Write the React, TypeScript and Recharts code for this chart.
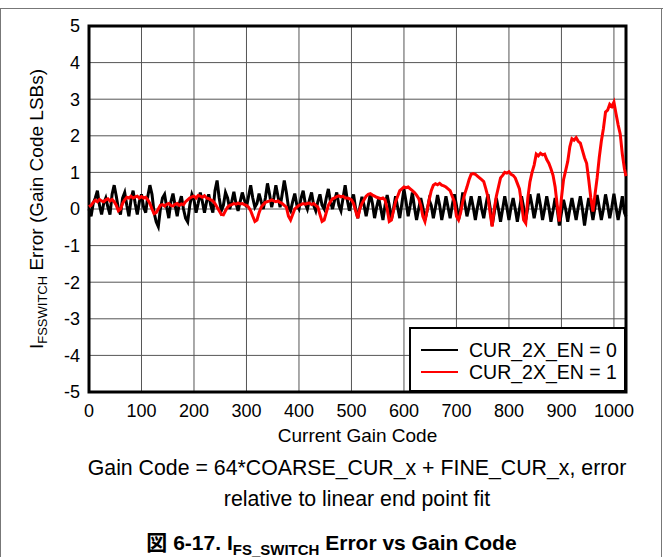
import { CartesianGrid, Line, LineChart, ReferenceArea, XAxis, YAxis } from 'recharts';

// one sample every 4 gain codes, last one at code 1023
const CODE_STEP = 4;
const LAST_CODE = 1023;

// CUR_2X_EN = 0
const errorCur2xOff = [
  0.0, -0.2, 0.15, 0.3, 0.5, 0.1, -0.15, 0.15, 0.3, 0.05, -0.15, 0.4, 0.65, 0.35, 0.0, -0.15,
  0.3, 0.45, 0.1, -0.2, 0.25, 0.5, 0.15, -0.15, 0.2, 0.4, 0.05, -0.1, 0.35, 0.65, 0.4, -0.1,
  -0.35, -0.48, 0.0, 0.3, 0.4, 0.05, -0.25, 0.2, 0.42, 0.1, -0.2, 0.15, 0.35, 0.0, -0.25, -0.35,
  0.1, 0.4, 0.25, -0.1, 0.15, 0.45, 0.2, -0.1, 0.2, 0.4, 0.1, -0.1, 0.5, 0.78, 0.3, -0.05,
  0.1, 0.45, 0.3, 0.0, 0.2, 0.47, 0.15, -0.05, 0.2, 0.45, 0.25, 0.05, 0.35, 0.65, 0.3, 0.05,
  0.15, 0.42, 0.2, 0.0, 0.3, 0.7, 0.4, 0.05, 0.3, 0.65, 0.35, 0.05, 0.4, 0.78, 0.45, 0.05,
  -0.05, 0.2, 0.42, 0.1, 0.0, 0.3, 0.5, 0.15, 0.0, 0.25, 0.45, 0.1, -0.05, 0.2, 0.4, 0.1,
  0.0, 0.3, 0.55, 0.2, 0.0, 0.25, 0.45, 0.1, -0.05, 0.3, 0.65, 0.25, -0.05, 0.2, 0.4, 0.0,
  -0.25, 0.05, 0.33, 0.1, -0.2, 0.1, 0.42, 0.15, -0.25, 0.05, 0.3, 0.0, -0.3, 0.1, 0.38, 0.1,
  -0.3, 0.0, 0.35, 0.05, -0.25, 0.15, 0.55, 0.2, -0.2, 0.1, 0.45, 0.05, -0.3, 0.0, 0.3, 0.05,
  -0.3, -0.05, 0.25, 0.1, -0.25, 0.05, 0.38, 0.1, -0.3, 0.0, 0.35, 0.05, -0.25, 0.1, 0.4, 0.1,
  -0.3, 0.0, 0.45, 0.15, -0.2, 0.05, 0.35, 0.05, -0.3, 0.05, 0.35, 0.0, -0.25, 0.1, 0.4, 0.05,
  -0.45, -0.1, 0.3, 0.0, -0.35, 0.0, 0.35, 0.05, -0.3, 0.05, 0.3, 0.0, -0.35, 0.0, 0.35, 0.05,
  -0.3, 0.05, 0.4, 0.1, -0.25, 0.05, 0.42, 0.1, -0.3, 0.0, 0.35, 0.05, -0.35, -0.05, 0.3, 0.0,
  -0.45, -0.1, 0.25, 0.0, -0.35, 0.0, 0.3, 0.0, -0.3, 0.05, 0.35, 0.0, -0.45, -0.05, 0.3, 0.05,
  -0.3, 0.05, 0.38, 0.05, -0.3, 0.0, 0.4, 0.1, -0.25, 0.05, 0.42, 0.05, -0.3, 0.0, 0.35, -0.1,
  -0.2,
];

// CUR_2X_EN = 1
const errorCur2xOn = [
  0.06, 0.1, 0.18, 0.24, 0.2, 0.26, 0.22, 0.2, 0.25, 0.28, 0.22, 0.26, 0.2, 0.1, -0.05, 0.0,
  0.15, 0.25, 0.32, 0.3, 0.35, 0.3, 0.33, 0.35, 0.3, 0.34, 0.3, 0.32, 0.25, 0.15, 0.0, -0.13,
  -0.1, 0.0, 0.1, 0.12, 0.08, 0.13, 0.15, 0.1, 0.08, 0.13, 0.15, 0.1, 0.14, 0.12, 0.2, 0.25,
  0.3, 0.33, 0.35, 0.3, 0.37, 0.35, 0.32, 0.36, 0.3, 0.28, 0.25, 0.22, 0.15, 0.05, -0.05, -0.15,
  -0.16, -0.05, 0.05, 0.1, 0.12, 0.15, 0.13, 0.16, 0.14, 0.15, 0.12, 0.1, 0.05, -0.05, -0.2, -0.34,
  -0.3, -0.1, 0.05, 0.12, 0.18, 0.2, 0.22, 0.25, 0.22, 0.2, 0.22, 0.18, 0.15, 0.1, 0.05, -0.2,
  -0.3, -0.15, 0.0, 0.05, 0.1, 0.12, 0.15, 0.13, 0.15, 0.16, 0.12, 0.15, 0.1, 0.05, -0.15, -0.34,
  -0.3, -0.1, 0.1, 0.2, 0.28, 0.3, 0.34, 0.36, 0.33, 0.35, 0.3, 0.3, 0.28, 0.25, 0.15, -0.05,
  -0.25, 0.0, 0.15, 0.25, 0.35, 0.4, 0.42, 0.38, 0.35, 0.32, 0.3, 0.28, 0.3, 0.25, 0.0, -0.34,
  -0.3, -0.05, 0.2, 0.35, 0.5, 0.55, 0.6, 0.58, 0.6, 0.55, 0.5, 0.45, 0.38, 0.29, 0.1, -0.2,
  -0.34, -0.05, 0.25, 0.5, 0.65, 0.69, 0.66, 0.7, 0.65, 0.63, 0.6, 0.55, 0.5, 0.35, 0.2, -0.2,
  -0.3, -0.1, 0.2, 0.42, 0.6, 0.8, 0.95, 0.97, 0.95, 0.9, 0.85, 0.8, 0.75, 0.55, 0.33, -0.1,
  -0.48, 0.0, 0.35, 0.6, 0.85, 0.92, 1.0, 0.98, 1.02, 0.95, 0.92, 0.85, 0.7, 0.55, 0.15, -0.3,
  -0.39, 0.3, 0.74, 1.0, 1.2, 1.5, 1.45, 1.52, 1.48, 1.5, 1.35, 1.25, 1.1, 0.92, 0.6, 0.1,
  -0.34, 0.3, 0.8, 1.05, 1.3, 1.7, 1.92, 1.88, 1.95, 1.85, 1.8, 1.6, 1.4, 1.25, 0.8, 0.3,
  -0.07, 0.4, 0.85, 1.4, 1.85, 2.2, 2.65, 2.7, 2.86, 2.8, 2.92, 2.6, 2.3, 2.05, 1.5, 1.1,
  0.9,
];

const xTicks = [0, 100, 200, 300, 400, 500, 600, 700, 800, 900, 1000];
const yTicks = [-5, -4, -3, -2, -1, 0, 1, 2, 3, 4, 5];

const seriesNames = ['CUR_2X_EN = 0', 'CUR_2X_EN = 1'];
const seriesColors = ['#000000', '#ff0000'];

const data = errorCur2xOff.map((v, i) => ({
  code: Math.min(i * CODE_STEP, LAST_CODE),
  off: v,
  on: errorCur2xOn[i],
}));

const FONT = 'Arial, "Liberation Sans", "Noto Sans CJK JP", sans-serif';

// legend box sits inside the plot, bottom-right corner
function LegendBox() {
  return (
    <div
      style={{
        position: 'absolute',
        left: 409,
        top: 327,
        width: 217,
        height: 65,
        boxSizing: 'border-box',
        border: '2px solid #000',
        background: '#fff',
        padding: '10px 0 0 10px',
        fontSize: 19.5,
        lineHeight: '22px',
        color: '#000',
      }}
    >
      {seriesNames.map((name, i) => (
        <div key={name} style={{ display: 'flex', alignItems: 'center' }}>
          <span style={{ display: 'inline-block', width: 37, height: 2.5, background: seriesColors[i], marginRight: 11 }} />
          <span>{name}</span>
        </div>
      ))}
    </div>
  );
}

export default function App() {
  return (
    <div style={{ position: 'absolute', left: 0, top: 0, width: 663, height: 557, background: '#fff', fontFamily: FONT }}>
      <div style={{ position: 'absolute', left: 0, top: 8, width: 663, height: 1, background: '#777' }} />
      <div style={{ position: 'absolute', left: 0, top: 8, width: 1, height: 549, background: '#777' }} />
      <div style={{ position: 'absolute', left: 661, top: 8, width: 1, height: 549, background: '#777' }} />

      <LineChart width={663} height={557} data={data} margin={{ top: 26, right: 37, left: 29, bottom: 135 }}>
        <CartesianGrid stroke="#555" strokeWidth={1} />
        <XAxis
          type="number"
          dataKey="code"
          domain={[0, 1023]}
          ticks={xTicks}
          interval={0}
          tickLine={false}
          axisLine={false}
          tickSize={0}
          tickMargin={12}
          height={30}
          tick={{ fontSize: 18, fill: '#000', fontFamily: FONT }}
        />
        <YAxis
          type="number"
          domain={[-5, 5]}
          ticks={yTicks}
          interval={0}
          tickLine={false}
          axisLine={false}
          tickSize={0}
          tickMargin={9}
          width={60}
          tick={{ fontSize: 18, fill: '#000', fontFamily: FONT }}
        />
        <Line dataKey="off" name={seriesNames[0]} stroke={seriesColors[0]} strokeWidth={3} dot={false} isAnimationActive={false} />
        <Line dataKey="on" name={seriesNames[1]} stroke={seriesColors[1]} strokeWidth={3} dot={false} isAnimationActive={false} />
        <ReferenceArea x1={0} x2={1023} y1={-5} y2={5} fill="none" stroke="#000" strokeWidth={3} ifOverflow="visible" />
      </LineChart>

      <LegendBox />

      <div style={{ position: 'absolute', left: 89, width: 537, top: 425, textAlign: 'center', fontSize: 19 }}>Current Gain Code</div>
      <div style={{ position: 'absolute', left: 57, width: 600, top: 453, textAlign: 'center', fontSize: 21.3, lineHeight: '31px' }}>
        Gain Code = 64*COARSE_CUR_x + FINE_CUR_x, error
        <br />
        relative to linear end point fit
      </div>
      <div style={{ position: 'absolute', left: 0, width: 663, top: 526, textAlign: 'center', fontSize: 21, fontWeight: 'bold' }}>
        図 6-17. I<sub style={{ fontSize: 15 }}>FS_SWITCH</sub> Error vs Gain Code
      </div>
      <div
        style={{
          position: 'absolute',
          left: 38,
          top: 209,
          transform: 'translate(-50%, -50%) rotate(-90deg)',
          whiteSpace: 'nowrap',
          fontSize: 19,
        }}
      >
        I<sub style={{ fontSize: 13 }}>FSSWITCH</sub> Error (Gain Code LSBs)
      </div>
    </div>
  );
}
